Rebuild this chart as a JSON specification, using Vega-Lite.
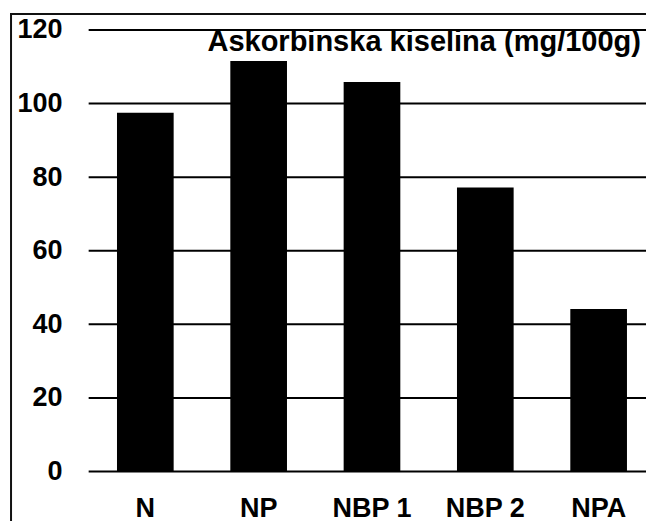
{
  "$schema": "https://vega.github.io/schema/vega-lite/v6.json",
  "autosize": "none",
  "width": 636,
  "height": 508,
  "padding": {"left": 10, "top": 13, "right": 0, "bottom": 0},
  "background": "white",
  "config": {
    "font": "Liberation Sans",
    "view": {"stroke": null}
  },
  "title": {
    "text": "Askorbinska kiselina (mg/100g)",
    "anchor": "end",
    "frame": "group",
    "orient": "top",
    "baseline": "alphabetic",
    "offset": -68,
    "dx": -5,
    "font": "Liberation Sans",
    "fontSize": 29,
    "fontWeight": "bold",
    "color": "black"
  },
  "layer": [
    {
      "data": {"values": [
        {"kategorija": "N", "vrijednost": 97.5},
        {"kategorija": "NP", "vrijednost": 111.6},
        {"kategorija": "NBP 1", "vrijednost": 105.9},
        {"kategorija": "NBP 2", "vrijednost": 77.2},
        {"kategorija": "NPA", "vrijednost": 44.2}
      ]},
      "mark": {"type": "bar", "color": "black"},
      "encoding": {
        "x": {
          "field": "kategorija", "type": "nominal", "sort": null,
          "scale": {"paddingInner": 0.5, "paddingOuter": 0.556, "align": 0.849},
          "axis": {
            "orient": "bottom", "title": null, "domain": false, "ticks": false,
            "labelAngle": 0, "labelFont": "Liberation Sans", "labelFontSize": 27,
            "labelFontWeight": "bold", "labelColor": "black",
            "labelBaseline": "alphabetic", "labelPadding": -5
          }
        },
        "y": {
          "field": "vrijednost", "type": "quantitative",
          "scale": {"domain": [-13.45, 124.62], "nice": false, "zero": false},
          "axis": {
            "title": null, "domain": false,
            "ticks": false, "grid": false,
            "values": [0, 20, 40, 60, 80, 100, 120],
            "labelFont": "Liberation Sans", "labelFontSize": 27,
            "labelFontWeight": "bold", "labelColor": "black",
            "labelAlign": "right", "labelBaseline": "middle", "labelPadding": -52
          }
        }
      }
    },
    {
      "data": {"values": [
        {"linija": 0}, {"linija": 20}, {"linija": 40}, {"linija": 60},
        {"linija": 80}, {"linija": 100}, {"linija": 120}
      ]},
      "mark": {"type": "rule", "color": "black", "strokeWidth": 2},
      "encoding": {
        "y": {"field": "linija", "type": "quantitative"},
        "x": {"datum": "N", "bandPosition": -0.5},
        "x2": {"datum": "NPA", "bandPosition": 1.4}
      }
    },
    {
      "data": {"values": [{}]},
      "mark": {"type": "rule", "color": "#111", "strokeWidth": 2},
      "encoding": {
        "x": {"datum": "N", "bandPosition": -1.87}
      }
    },
    {
      "data": {"values": [{}]},
      "mark": {"type": "rule", "color": "#111", "strokeWidth": 2},
      "encoding": {
        "y": {"datum": 124.35}
      }
    }
  ]
}
